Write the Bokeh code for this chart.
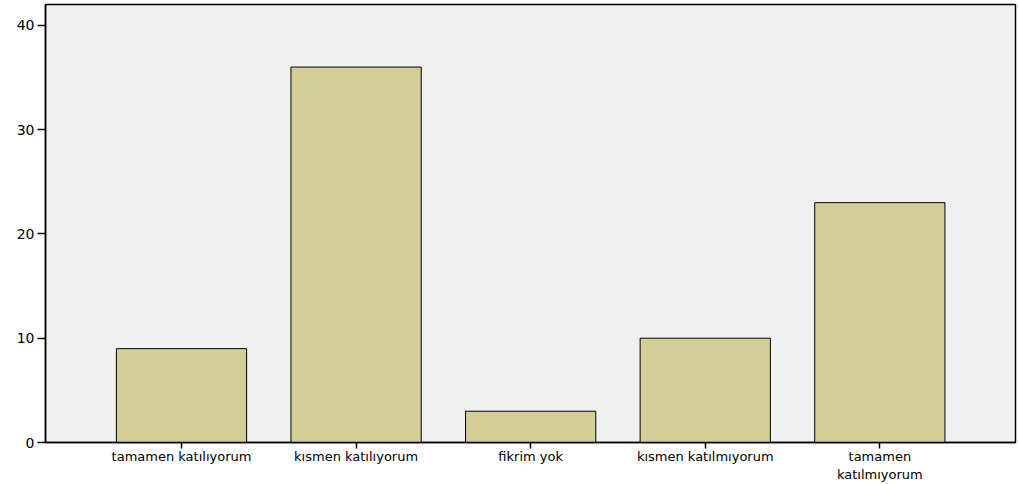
from bokeh.plotting import figure
from bokeh.models import FixedTicker, Range1d
from bokeh.embed import file_html
from bokeh.resources import INLINE

categories = ["tamamen katılıyorum", "kısmen katılıyorum", "fikrim yok",
              "kısmen katılmıyorum", "tamamen\nkatılmıyorum"]
counts = [9, 36, 3, 10, 23]
y_ticks = [0, 10, 20, 30, 40]

xs = list(range(len(categories)))

p = figure(width=1018, height=484, output_backend="svg", toolbar_location=None,
           x_range=Range1d(-0.779, 4.777), y_range=Range1d(0, 42.0),
           min_border_left=45, min_border_right=3, min_border_top=4, min_border_bottom=42)
p.border_fill_color = "white"
p.background_fill_color = "#f0f0f0"
p.outline_line_color = "black"
p.outline_line_width = 1.5

p.vbar(x=xs, top=counts, width=0.746, bottom=0,
       fill_color="#d3ce97", line_color="black", line_width=1)

p.grid.visible = False

p.xaxis.ticker = FixedTicker(ticks=xs)
p.xaxis.major_label_overrides = {i: c for i, c in enumerate(categories)}
p.yaxis.ticker = FixedTicker(ticks=y_ticks)

for ax in (p.xaxis[0], p.yaxis[0]):
    ax.axis_line_color = "black"
    ax.axis_line_width = 1.5
    ax.major_tick_line_color = "black"
    ax.major_tick_line_width = 1.5
    ax.minor_tick_line_color = None
    ax.major_tick_in = 0
    ax.major_label_text_font = "DejaVu Sans"
    ax.major_label_text_color = "black"

p.xaxis.major_tick_out = 6
p.yaxis.major_tick_out = 8
p.xaxis.major_label_text_font_size = "13px"
p.xaxis.major_label_standoff = 0
p.yaxis.major_label_text_font_size = "14px"
p.yaxis.major_label_standoff = 3

open("out.html", "w").write(file_html(p, INLINE))
